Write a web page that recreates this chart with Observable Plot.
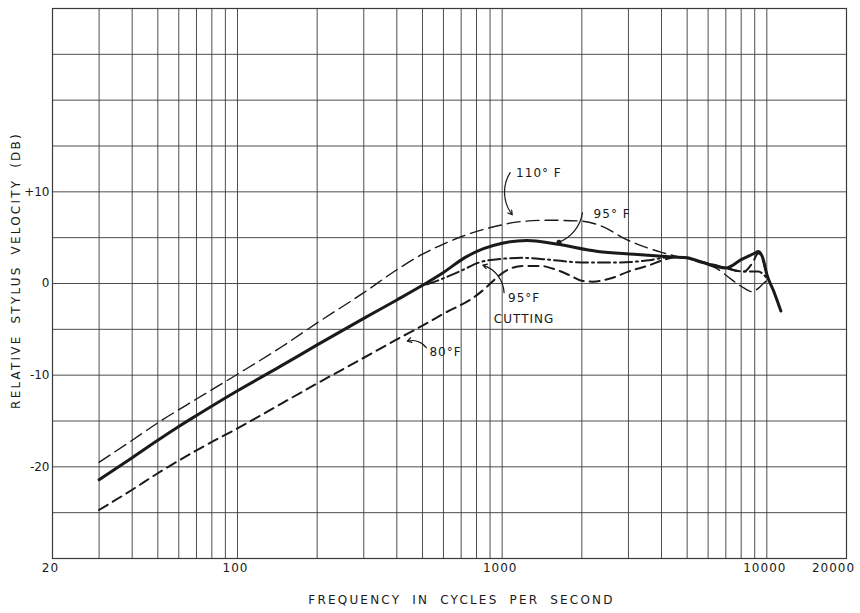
<!DOCTYPE html>
<html><head><meta charset="utf-8">
<script src="https://cdn.jsdelivr.net/npm/d3@7"></script>
<script src="https://cdn.jsdelivr.net/npm/@observablehq/plot@0.6"></script>
<style>
body{margin:0;background:#fff}
#chart svg{display:block}
</style>
</head><body><div id="chart"></div>
<script>
// ---- data (frequency in Hz, relative stylus velocity in dB) ----
const curve95F = [[30,-21.4],[40,-19.0],[50,-17.1],[60,-15.6],[70,-14.4],[100,-11.7],[144,-9.1],[200,-6.7],[300,-3.8],[400,-1.8],[500,-0.2],[600,1.2],[720,2.8],[850,3.8],[1000,4.4],[1240,4.7],[1600,4.3],[2300,3.5],[3150,3.2],[4400,2.9],[5000,2.8],[5700,2.3],[7000,1.7],[8000,2.6],[9000,3.3],[9300,3.5],[9650,2.8],[10000,1.0],[10600,-0.8],[11300,-3.0]];
const curve110F = [[30,-19.5],[40,-17.1],[50,-15.2],[70,-12.6],[100,-9.9],[147,-6.9],[200,-4.3],[300,-1.0],[400,1.5],[500,3.2],[600,4.3],[700,5.1],[850,5.9],[1000,6.4],[1130,6.7],[1500,6.9],[2000,6.8],[2400,6.2],[2900,4.9],[4000,3.4],[4500,3.0],[5500,2.4],[6500,1.6],[7300,0.5],[8000,-0.3],[8850,-0.9],[9300,-0.5],[9700,0.0],[10000,0.3]];
const curve80F = [[30,-24.7],[40,-22.5],[50,-20.7],[70,-18.2],[100,-15.8],[200,-10.9],[300,-8.1],[400,-6.1],[500,-4.6],[600,-3.3],[800,-1.3],[880,-0.3],[950,0.6],[1050,1.5],[1200,1.9],[1400,1.9],[1600,1.5],[1800,0.9],[2000,0.3],[2200,0.2],[2600,0.6],[3000,1.3],[3600,2.0],[4100,2.6],[4600,2.9],[5300,2.6],[6200,2.1],[7200,1.6],[8200,1.3],[8800,2.2],[9300,3.3],[9700,2.4],[10000,1.0]];
const curve95FCutting = [[520,-0.1],[580,0.4],[700,1.4],[820,2.3],[1000,2.7],[1200,2.8],[1500,2.6],[2000,2.3],[2800,2.3],[3500,2.5],[4400,2.9],[5000,2.8],[5700,2.3],[7000,1.7],[7600,1.4],[8500,1.3],[9300,1.3],[9700,1.0],[10000,0.6]];

const xTickValues = [20, 100, 1000, 10000];
const xTickLast = [20000];
const yTickValues = [10, 0, -10, -20];
const yTickText = ["+10", "0", "-10", "-20"];
const gridFreqs = [30,40,50,60,70,80,90,100,200,300,400,500,600,700,800,900,1000,2000,3000,4000,5000,6000,7000,8000,9000,10000];
const gridDb = [-25,-20,-15,-10,-5,0,5,10,15,20,25];

const xTitle = "FREQUENCY IN CYCLES PER SECOND";
const yTitle = "RELATIVE STYLUS VELOCITY (DB)";

// curve labels: [freq, dB, text]
const labels = [[1129,12.0,"110° F"],[2216,7.6,"95° F"],[531,-7.5,"80°F"]];
const labelsCentered = [[1210,-1.6,"95°F"],[1210,-3.9,"CUTTING"]];
// leader lines: [f1, db1, f2, db2]
const leadersArrow = [[1072,12.1,1092,7.5],[1017,-1.0,845,2.0],[517,-7.0,438,-6.3]];
const leadersDot = [[2010,7.7,1640,4.5]];
const leaderDots = [[1640,4.5]];

const toRows = (arr) => arr.map(([f, db]) => ({f, db}));
const ink = "#1a1a1a";
const grid = "#3a3a3a";

const chart = Plot.plot({
  width: 860, height: 613,
  marginTop: 8, marginRight: 14, marginBottom: 55, marginLeft: 52,
  style: {fontFamily: "'DejaVu Sans', sans-serif", fontSize: "12px", color: ink, background: "#fff", letterSpacing: "1px"},
  x: {type: "log", domain: [20, 20000], axis: null},
  y: {domain: [-30, 30], axis: null},
  marks: [
    Plot.ruleX(gridFreqs, {x: d => d, stroke: grid, strokeWidth: 0.9}),
    Plot.ruleY(gridDb, {y: d => d, stroke: grid, strokeWidth: 0.9}),
    Plot.frame({stroke: grid, strokeWidth: 1.2}),
    Plot.line(toRows(curve110F), {x: "f", y: "db", stroke: ink, strokeWidth: 1.4, strokeDasharray: "13,6", curve: "monotone-x"}),
    Plot.line(toRows(curve80F), {x: "f", y: "db", stroke: ink, strokeWidth: 2, strokeDasharray: "10,6", curve: "monotone-x"}),
    Plot.line(toRows(curve95FCutting), {x: "f", y: "db", stroke: ink, strokeWidth: 2, strokeDasharray: "12,4,2,4", curve: "monotone-x"}),
    Plot.line(toRows(curve95F), {x: "f", y: "db", stroke: ink, strokeWidth: 3, curve: "monotone-x"}),
    Plot.arrow(leadersArrow, {x1: d => d[0], y1: d => d[1], x2: d => d[2], y2: d => d[3], bend: -35, stroke: ink, strokeWidth: 1.2, headLength: 6}),
    Plot.arrow(leadersDot, {x1: d => d[0], y1: d => d[1], x2: d => d[2], y2: d => d[3], bend: 30, stroke: ink, strokeWidth: 1.2, headLength: 0}),
    Plot.dot(leaderDots, {x: d => d[0], y: d => d[1], r: 2.5, fill: ink}),
    Plot.text(labels, {x: d => d[0], y: d => d[1], text: d => d[2], textAnchor: "start", fill: ink, fontSize: 12}),
    Plot.text(labelsCentered, {x: d => d[0], y: d => d[1], text: d => d[2], textAnchor: "middle", fill: ink, fontSize: 12}),
    Plot.text(yTickValues, {y: d => d, text: (d, i) => yTickText[i], frameAnchor: "left", textAnchor: "end", dx: -3, fill: ink, fontSize: 12}),
    Plot.text(xTickValues, {x: d => d, text: d => String(d), frameAnchor: "bottom", dy: 13, dx: -2, fill: ink, fontSize: 12}),
    Plot.text(xTickLast, {x: d => d, text: d => String(d), frameAnchor: "bottom", dy: 13, dx: -13, fill: ink, fontSize: 12}),
    Plot.text([xTitle], {text: d => d, frameAnchor: "bottom", textAnchor: "middle", dy: 45, dx: 12, fill: ink, fontSize: 12}),
    Plot.text([yTitle], {text: d => d, frameAnchor: "left", textAnchor: "middle", dx: -36, dy: -13, rotate: -90, fill: ink, fontSize: 12})
  ]
});
document.getElementById("chart").appendChild(chart);
const svgText = d3.select(chart).selectAll("text");
svgText.filter(function() { const t = this.textContent; return t === xTitle || t === yTitle; })
  .style("letter-spacing", "2.2px").style("word-spacing", "5px");
svgText.filter(function() { return yTickText.includes(this.textContent); })
  .style("letter-spacing", "0px");
</script>
</body></html>
